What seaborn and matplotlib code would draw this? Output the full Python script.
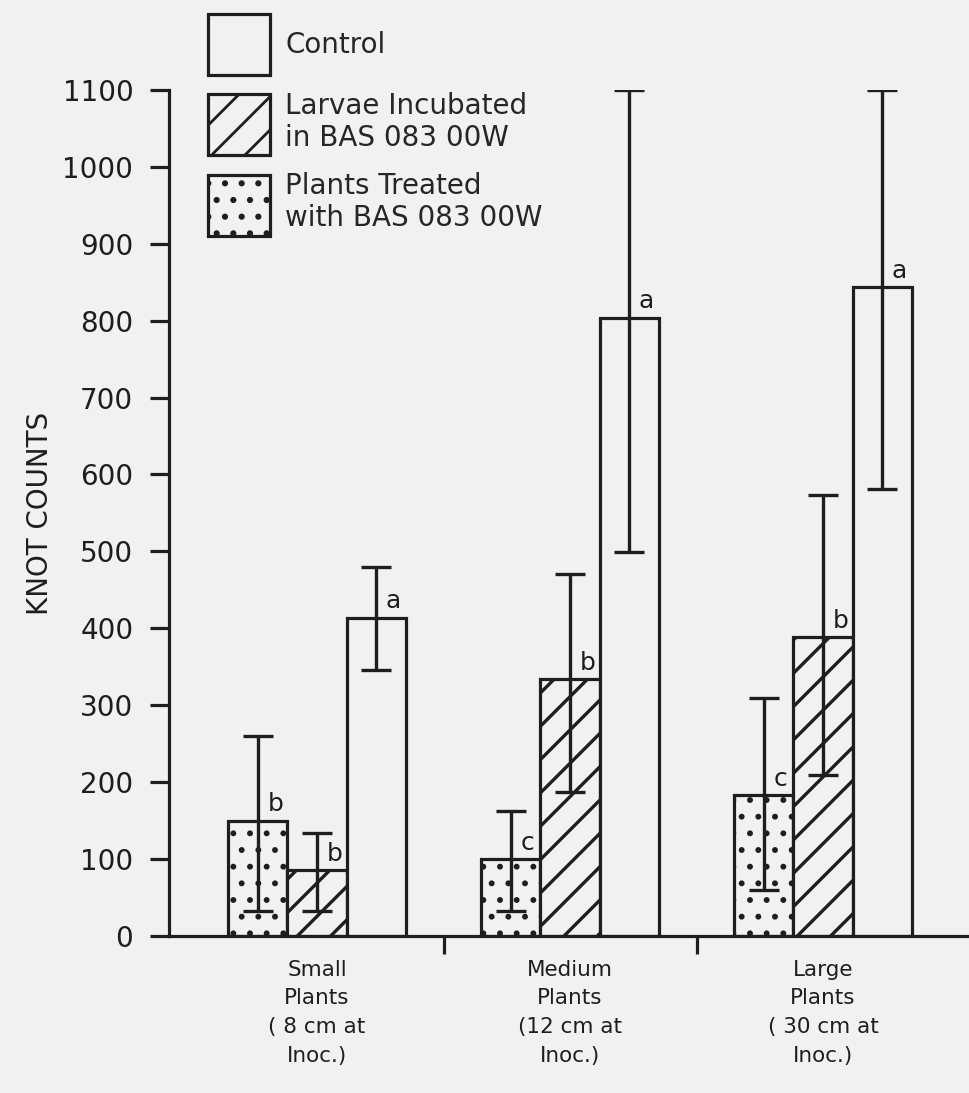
"""
Knot counts by plant size at inoculation, with BAS 083 00W treatments.
Bars are drawn with seaborn, the asymmetric error bars with matplotlib.
"""

import matplotlib
matplotlib.use('Agg')
import matplotlib.pyplot as plt
from matplotlib.patches import Patch
import pandas as pd
import seaborn as sns

sns.set_style("white")
plt.rcParams['font.family'] = ['DejaVu Sans']
plt.rcParams['hatch.linewidth'] = 2.0

BG = '#f1f1f1'
INK = '#1e1e1e'

# plant size groups (x tick labels)
sizes = ['Small\nPlants\n( 8 cm at\nInoc.)',
         'Medium\nPlants\n(12 cm at\nInoc.)',
         'Large\nPlants\n( 30 cm at\nInoc.)']

# treatments, in drawing order left -> right inside a group
treatments = ['Plants Treated\nwith BAS 083 00W',
              'Larvae Incubated\nin BAS 083 00W',
              'Control']

treated_mean = [150, 100, 183]
treated_low = [33, 32, 60]
treated_high = [260, 163, 310]
treated_letters = ['b', 'c', 'c']

larvae_mean = [86, 334, 389]
larvae_low = [33, 187, 209]
larvae_high = [134, 471, 573]
larvae_letters = ['b', 'b', 'b']

control_mean = [414, 804, 844]
control_low = [346, 499, 581]
control_high = [480, 1100, 1100]
control_letters = ['a', 'a', 'a']

yticks = list(range(0, 1101, 100))

hatches = ['.', '/', '']
hatch_widths = [1.8, 2.4, 2.0]

means = [treated_mean, larvae_mean, control_mean]
lows = [treated_low, larvae_low, control_low]
highs = [treated_high, larvae_high, control_high]
letters = [treated_letters, larvae_letters, control_letters]

rows = []
for t, vals in zip(treatments, means):
    for s, v in zip(sizes, vals):
        rows.append({'size': s, 'treatment': t, 'count': v})
df = pd.DataFrame(rows)


def set_hatch(p, hatch, hw):
    p.set_hatch(hatch)
    if hasattr(p, 'set_hatch_linewidth'):
        p.set_hatch_linewidth(hw)


fig = plt.figure(figsize=(9.69, 10.93), dpi=100, facecolor=BG)
ax = fig.add_axes([0.1744, 0.1437, 0.8256, 0.774], facecolor=BG)

sns.barplot(data=df, x='size', y='count', hue='treatment',
            order=sizes, hue_order=treatments,
            palette={t: BG for t in treatments}, saturation=1,
            edgecolor=INK, linewidth=2.3, width=0.70, gap=0,
            errorbar=None, legend=False, ax=ax)

# hatching, error bars and significance letters
for cont, hatch, hw, m, lo, hi, lets in zip(ax.containers, hatches, hatch_widths,
                                            means, lows, highs, letters):
    xs = []
    for p in cont:
        set_hatch(p, hatch, hw)
        xs.append(p.get_x() + p.get_width() / 2)
    yerr = [[mv - l for mv, l in zip(m, lo)], [h - mv for mv, h in zip(m, hi)]]
    ax.errorbar(xs, m, yerr=yerr, fmt='none', ecolor=INK, elinewidth=2.4,
                capsize=11, capthick=2.4, zorder=5)
    for x, v, lt in zip(xs, m, lets):
        ax.annotate(lt, xy=(x, v), xytext=(7, 3), textcoords='offset points',
                    ha='left', va='bottom', fontsize=18, color=INK)

ax.set_xlim(-0.585, 2.577)
ax.set_ylim(0, 1100)

ax.set_yticks(yticks)
ax.set_yticklabels([str(v) for v in yticks])
ax.set_xticks([0.5, 1.5])
ax.set_xticklabels(['', ''])
ax.set_xticks([0, 1, 2], minor=True)
ax.set_xticklabels(sizes, minor=True, linespacing=1.55)

ax.tick_params(axis='y', left=True, direction='out', length=13.7, width=2.3, color=INK,
               pad=12, labelsize=20, labelcolor=INK)
ax.tick_params(axis='x', which='major', bottom=True, direction='out', length=13,
               width=2.3, color=INK)
ax.tick_params(axis='x', which='minor', bottom=True, length=0, pad=17,
               labelsize=15.5, labelcolor=INK)

ax.set_xlabel('')
ax.set_ylabel('KNOT COUNTS', fontsize=20, color=INK, labelpad=6)

for side in ['top', 'right']:
    ax.spines[side].set_visible(False)
for side in ['left', 'bottom']:
    ax.spines[side].set_linewidth(2.3)
    ax.spines[side].set_color(INK)

handles = []
for t, h, hw in zip(treatments, hatches, hatch_widths):
    hp = Patch(facecolor=BG, edgecolor=INK, linewidth=2.3, label=t)
    set_hatch(hp, h, hw)
    handles.append(hp)
handles = handles[::-1]
fig.legend(handles=handles, loc='upper left', bbox_to_anchor=(0.2147, 0.987),
           bbox_transform=fig.transFigure, frameon=False, fontsize=20,
           handlelength=2.23, handleheight=3.0, handletextpad=0.55,
           labelspacing=0.6, borderpad=0, borderaxespad=0)

fig.savefig('out.png', dpi=100, facecolor=BG)
